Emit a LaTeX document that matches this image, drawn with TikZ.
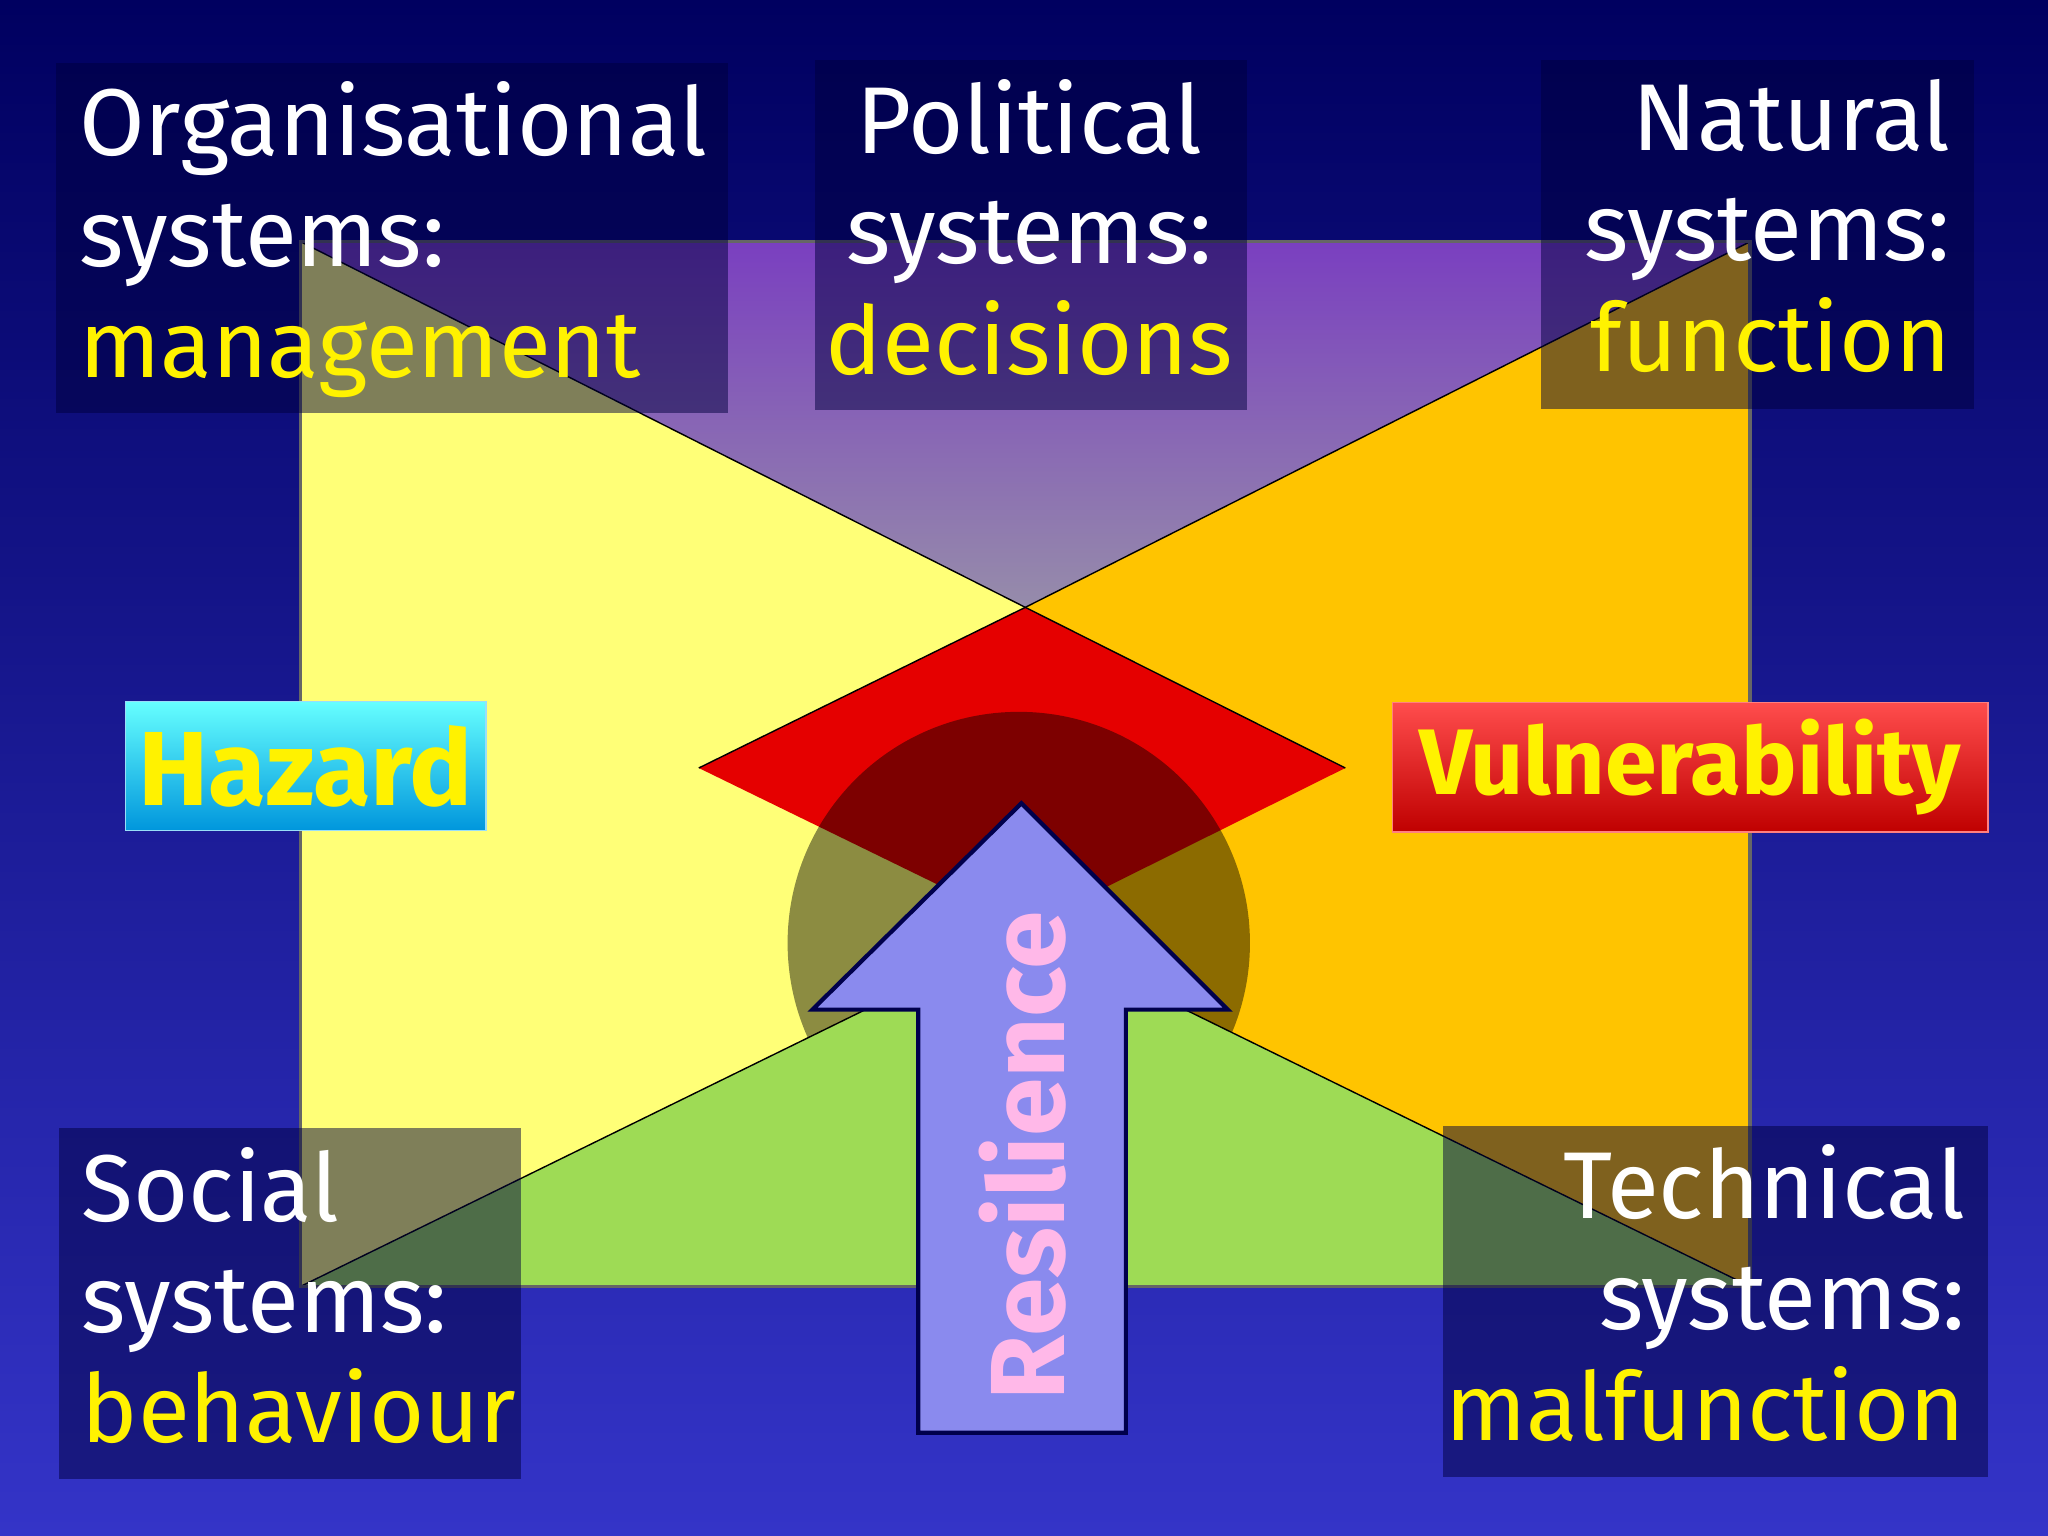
\documentclass[tikz,border=0pt]{standalone}
\usepackage{fontspec}
\setmainfont{Fira Sans}
\begin{document}
\begin{tikzpicture}[x=0.013061cm,y=-0.013061cm,
  lbl/.style={text=white,font=\fontsize{27}{31.5}\selectfont,inner sep=0pt},
  darkbox/.style={fill=black!70!blue!80!black,fill opacity=0.5,draw=none},
  tag/.style={font=\fontsize{30}{34}\selectfont\bfseries,text=yellow,inner sep=0pt}]
\definecolor{yel}{HTML}{FFFF77}
\definecolor{ora}{HTML}{FFC400}
\definecolor{grn}{HTML}{9EDB55}
\definecolor{pur}{HTML}{7A3FC0}
\definecolor{arr}{HTML}{8A8AEE}
\definecolor{pink}{HTML}{FFB8E8}
\useasboundingbox (0,0) rectangle (1568,1176);
\shade[top color={rgb,255:red,0;green,0;blue,96}, bottom color={rgb,255:red,52;green,52;blue,200}] (0,0) rectangle (1568,1176);
% rectangle halves
\fill[yel] (230,185) rectangle (785,985);
\fill[ora] (785,185) rectangle (1340,985);
% red diamond
\fill[red!90!black] (535,588) -- (785,465) -- (1030,588) -- (785,710) -- cycle;
\draw[black,thin] (535,588) -- (785,465) -- (1030,588);
% dark circle
\fill[black,opacity=0.45] (780,722) circle (177);
% top triangle
\shade[top color=pur, bottom color={rgb,255:red,150;green,140;blue,170}] (230,185) -- (1340,185) -- (785,465) -- cycle;
\draw[black,thin] (230,185) -- (785,465) -- (1340,185);
% bottom triangle
\fill[grn] (230,985) -- (785,713) -- (1340,985) -- cycle;
\draw[black,thin] (230,985) -- (785,713) -- (1340,985);
\draw[black!60,line width=1pt] (230,185) rectangle (1340,985);
% arrow
\draw[fill=arr,draw=black!70!blue,line width=1.2pt] (703,1097) -- (703,773) -- (622,773) -- (782,615) -- (940,773) -- (862,773) -- (862,1097) -- cycle;
\node[rotate=90,font=\fontsize{30}{34}\selectfont\bfseries,text=pink,inner sep=0pt] (res) at (783,885) {Resilience};
% Hazard / Vulnerability
\shade[top color=cyan!60!white, bottom color={rgb,255:red,0;green,150;blue,220},draw=cyan!40!white] (96,537) rectangle (372,636);
\node[tag] (haz) at (234,587) {Hazard};
\shade[top color=red!70!white, bottom color=red!75!black,draw=red!50!white] (1066,538) rectangle (1522,637);
\node[tag,font=\fontsize{26.5}{30}\selectfont\bfseries] (vul) at (1294,587) {Vulnerability};
% dark text boxes
\fill[darkbox] (43,48) rectangle (557,316);
\fill[darkbox] (624,46) rectangle (955,314);
\fill[darkbox] (1180,46) rectangle (1511,313);
\fill[darkbox] (45,864) rectangle (399,1132);
\fill[darkbox] (1105,862) rectangle (1522,1131);
\node[lbl,align=left,anchor=north west] (org) at (60,62) {Organisational\\systems:\\\textcolor{yellow}{management}};
\node[lbl,align=center,anchor=north] (pol) at (788,60) {Political\\systems:\\\textcolor{yellow}{decisions}};
\node[lbl,align=right,anchor=north east] (nat) at (1494,60) {Natural\\systems:\\\textcolor{yellow}{function}};
\node[lbl,align=left,anchor=north west] (soc) at (62,878) {Social\\systems:\\\textcolor{yellow}{behaviour}};
\node[lbl,align=right,anchor=north east] (tec) at (1505,876) {Technical\\systems:\\\textcolor{yellow}{malfunction}};
\end{tikzpicture}
\end{document}
